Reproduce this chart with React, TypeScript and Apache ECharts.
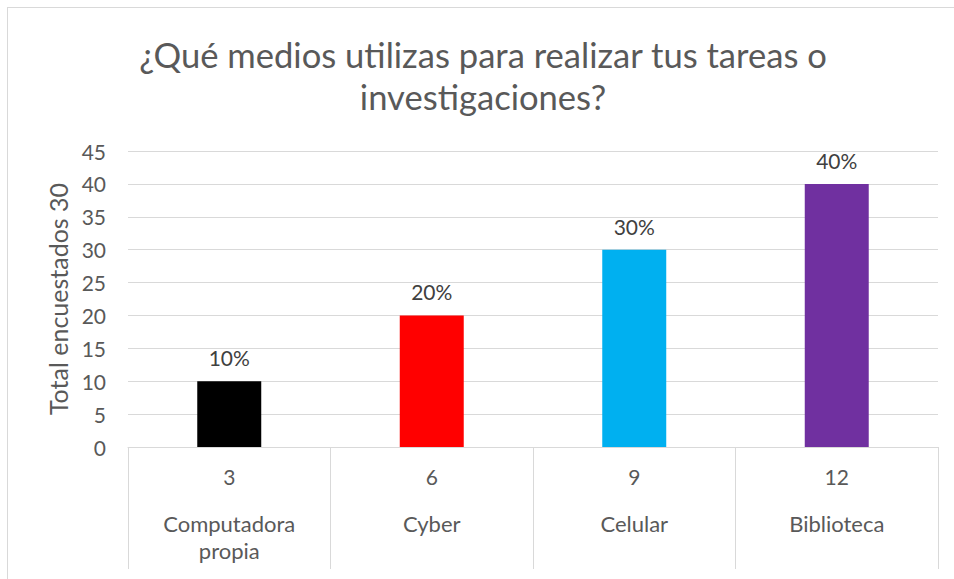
import React, { useEffect, useRef } from "react";
import * as echarts from "echarts";

const titleLines = ["¿Qué medios utilizas para realizar tus tareas o", "investigaciones?"];
const codes = ["3", "6", "9", "12"];
const names = ["Computadora\npropia", "Cyber", "Celular", "Biblioteca"];
const values = [10, 20, 30, 40];
const pctLabels = ["10%", "20%", "30%", "40%"];
const barColors = ["#000000", "#FF0000", "#00B0F0", "#7030A0"];
const yAxisName = "Total encuestados 30";

const FONT = "Lato, 'Noto Sans', sans-serif";

export default function App() {
  const ref = useRef<HTMLDivElement>(null);
  useEffect(() => {
    if (!ref.current) return;
    const chart = echarts.init(ref.current, null, { renderer: "svg" });
    const cats = codes.map((c, i) => `${c}\n${names[i]}`);
    chart.setOption({
      animation: false,
      backgroundColor: "#ffffff",
      textStyle: { fontFamily: FONT },
      title: {
        text: titleLines.join("\n"),
        left: 478,
        textAlign: "center",
        top: 28,
        textStyle: {
          fontFamily: FONT,
          fontSize: 34.6,
          fontWeight: "normal",
          color: "#595959",
          lineHeight: 42,
        },
      },
      grid: { left: 128, right: 16, top: 151, bottom: 132, containLabel: false },
      xAxis: {
        type: "category",
        data: cats,
        axisLine: { show: true, lineStyle: { color: "#d9d9d9", width: 1 } },
        axisTick: { show: true, length: 122, lineStyle: { color: "#d9d9d9", width: 1 } },
        axisLabel: {
          interval: 0,
          margin: 16,
          formatter: (v: string) => {
            const [code, ...rest] = v.split("\n");
            return `{c|${code}}\n{s| }\n` + rest.map((r) => `{n|${r}}`).join("\n");
          },
          rich: {
            c: { fontSize: 21, color: "#595959", fontFamily: FONT, lineHeight: 27 },
            s: { fontSize: 10, lineHeight: 20 },
            n: { fontSize: 22, color: "#595959", fontFamily: FONT, lineHeight: 27 },
          },
          verticalAlign: "top",
        },
      },
      yAxis: {
        type: "value",
        min: 0,
        max: 45,
        interval: 5,
        name: yAxisName,
        nameLocation: "middle",
        nameGap: 52,
        nameRotate: 90,
        nameTextStyle: { fontSize: 25, color: "#595959", fontFamily: FONT },
        axisLine: { show: false },
        axisTick: { show: false },
        axisLabel: { fontSize: 21, color: "#595959", margin: 22, fontFamily: FONT },
        splitLine: { lineStyle: { color: "#d9d9d9", width: 1 } },
      },
      series: [
        {
          type: "bar",
          barWidth: "31.6%",
          data: values.map((v, i) => ({ value: v, itemStyle: { color: barColors[i] } })),
          label: {
            show: true,
            position: "top",
            distance: 13,
            fontSize: 21,
            color: "#404040",
            fontFamily: FONT,
            formatter: (p: any) => pctLabels[p.dataIndex],
          },
        },
      ],
    });
    return () => chart.dispose();
  }, []);
  return (
    <div style={{ position: "absolute", left: 0, top: 0, width: 954, height: 579, overflow: "hidden" }}>
      <div ref={ref} style={{ position: "absolute", left: 0, top: 0, width: 954, height: 579 }} />
      <div style={{ position: "absolute", left: 7, top: 7, width: 947, height: 1, background: "#d9d9d9" }} />
      <div style={{ position: "absolute", left: 7, top: 7, width: 1, height: 572, background: "#d9d9d9" }} />
    </div>
  );
}
